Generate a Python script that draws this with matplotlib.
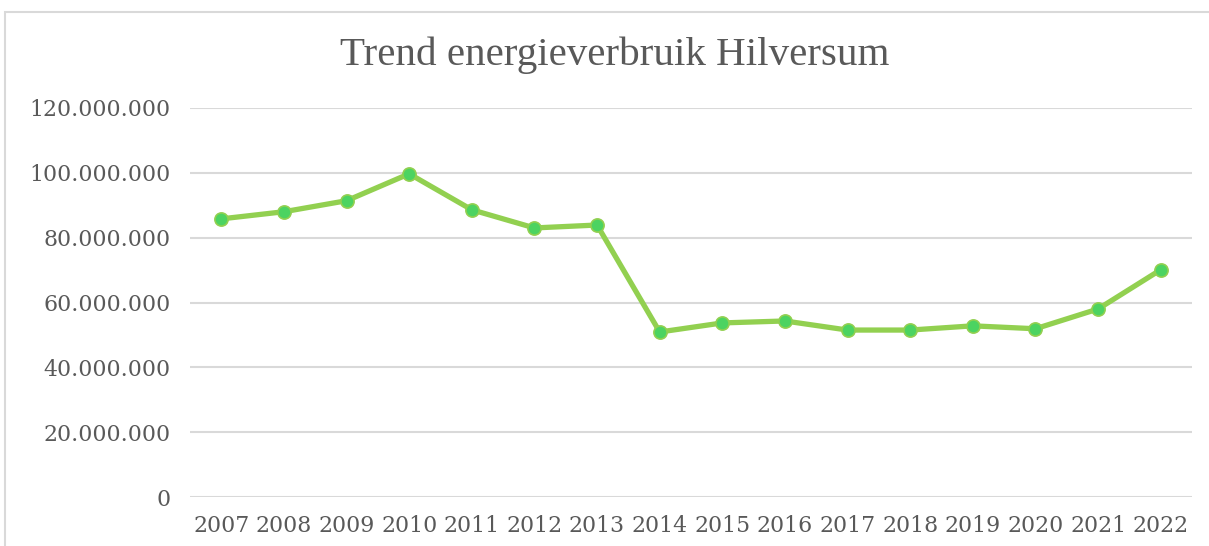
import matplotlib.pyplot as plt
from matplotlib.ticker import FuncFormatter
from matplotlib.patches import Rectangle

# jaren en verbruik
jaren = ["2007", "2008", "2009", "2010", "2011", "2012", "2013", "2014",
         "2015", "2016", "2017", "2018", "2019", "2020", "2021", "2022"]
verbruik = [85.8e6, 88.0e6, 91.4e6, 99.7e6, 88.6e6, 83.0e6, 83.9e6, 50.9e6,
            53.7e6, 54.3e6, 51.5e6, 51.5e6, 52.8e6, 51.9e6, 58.0e6, 70.1e6]
yticks = [0, 20e6, 40e6, 60e6, 80e6, 100e6, 120e6]

plt.rcParams['font.family'] = ['DejaVu Serif']

fig = plt.figure(figsize=(12.09, 5.46), dpi=100)
# kader rond de grafiek
fig.patches.append(Rectangle((5/1209, -0.1), 1.1, (546-12)/546 + 0.1, transform=fig.transFigure,
                             fill=False, edgecolor="#D9D9D9", linewidth=1.5))

ax = fig.add_axes([190/1209, 1-497/546, (1192-190)/1209, (497-108)/546])
x = list(range(len(jaren)))
ax.plot(x, verbruik, color="#92D050", linewidth=3.8, marker="o", markersize=9.5,
        markerfacecolor="#4CD361", markeredgecolor="#92D050", markeredgewidth=1.2, zorder=3)

ax.set_xlim(-0.5, len(jaren) - 0.5)
ax.set_ylim(0, 120e6)
ax.set_yticks(yticks)
ax.yaxis.set_major_formatter(FuncFormatter(lambda v, p: f"{int(v):,}".replace(",", ".")))
ax.set_xticks(x)
ax.set_xticklabels(jaren)
ax.grid(axis="y", color="#D9D9D9", linewidth=1.5)
ax.set_axisbelow(True)
for s in ax.spines.values():
    s.set_visible(False)
ax.tick_params(length=0, labelsize=15.8, labelcolor="#595959")
ax.tick_params(axis="y", pad=14)
ax.tick_params(axis="x", pad=13)

fig.text(615/1209, 1-55/546, "Trend energieverbruik Hilversum", ha="center", va="center",
         fontsize=29.5, color="#595959", family="Liberation Serif")

fig.savefig("out.png", dpi=100)
